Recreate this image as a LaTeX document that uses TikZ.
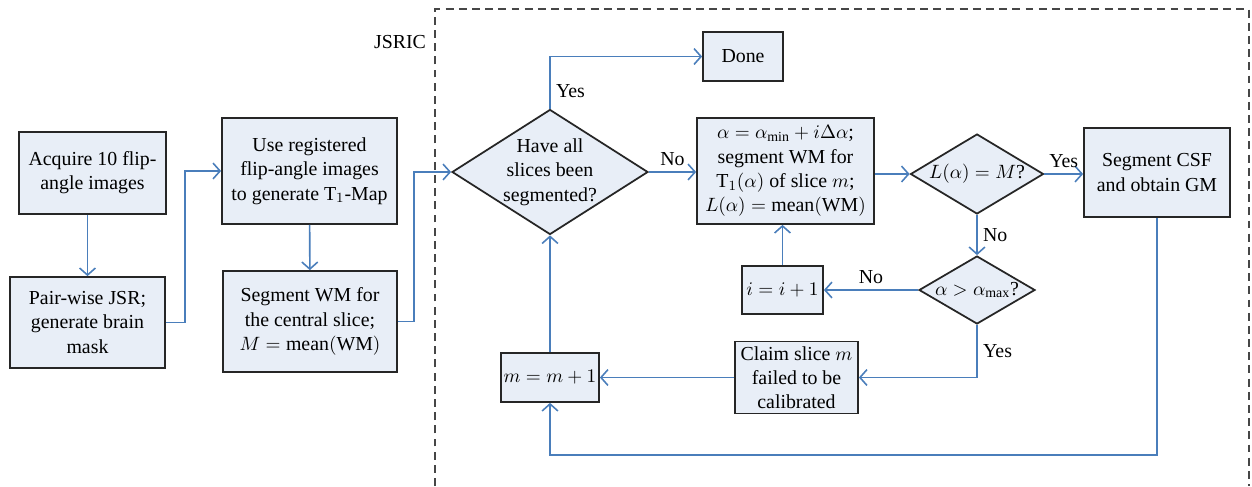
\documentclass[tikz,border=0pt]{standalone}
\usepackage{fontspec}
\setmainfont{Liberation Serif}
\usepackage{amsmath}
\usetikzlibrary{shapes.geometric}
\usetikzlibrary{arrows.meta}
\definecolor{boxfill}{RGB}{232,238,247}
\definecolor{flowblue}{RGB}{74,126,187}
\definecolor{framegray}{RGB}{70,70,70}
\tikzset{
        flownode/.style={align=center, font=\fontsize{11.3}{13.8}\selectfont, fill=boxfill, draw=black!85, line width=1pt},
        % Process boxes
        node_box/.style={flownode, rectangle, inner sep=0pt},
        % Decision nodes
        node_decision/.style={flownode, diamond, inner sep=-2pt},
        % Connectors
        edge_flow/.style={draw=flowblue, line width=0.9pt, -{Straight Barb[length=4pt,width=9pt]}},
        % Yes / No labels
        edge_label/.style={font=\fontsize{11.3}{13.8}\selectfont, text=black, inner sep=3pt}
}

\begin{document}
\begin{tikzpicture}
    \useasboundingbox (0,0) rectangle (25.04,-9.72);

    % JSRIC frame
    \draw[framegray, line width=1pt, dash pattern=on 4.5pt off 3pt]
        (8.70,-9.72) -- (8.70,-0.18) -- (24.98,-0.18) -- (24.98,-9.72);
    \node[edge_label] (jsric) at (8.0,-0.84) {JSRIC};

    % preprocessing
    \node[node_box, minimum width=2.94cm, minimum height=1.64cm] (acq) at (1.85,-3.46)
        {Acquire 10 flip-\\angle images};
    \node[node_box, minimum width=3.10cm, minimum height=1.82cm] (jsr) at (1.75,-6.45)
        {Pair-wise JSR;\\generate brain\\mask};
    \node[node_box, minimum width=3.50cm, minimum height=2.12cm] (tmap) at (6.19,-3.42)
        {Use registered\\flip-angle images\\to generate T$_1$-Map};
    \node[node_box, minimum width=3.48cm, minimum height=2.02cm] (segc) at (6.20,-6.43)
        {Segment WM for\\the central slice;\\$M = \mathrm{mean}(\mathrm{WM})$};

    % calibration loop
    \node[node_decision, aspect=1.568, minimum width=3.92cm, minimum height=2.50cm] (allseg) at (11.0,-3.44)
        {Have all\\slices been\\segmented?};
    \node[node_box, minimum width=1.60cm, minimum height=0.98cm] (done) at (14.86,-1.13) {Done};
    \node[node_box, minimum width=3.54cm, minimum height=2.12cm] (segwm) at (15.71,-3.42)
        {$\alpha = \alpha_{\min} + i\Delta\alpha$;\\segment WM for\\T$_1(\alpha)$ of slice $m$;\\$L(\alpha) = \mathrm{mean}(\mathrm{WM})$};
    \node[node_decision, aspect=1.66, minimum width=2.66cm, minimum height=1.60cm] (lmatch) at (19.54,-3.48)
        {$L(\alpha) = M$?};
    \node[node_box, minimum width=2.92cm, minimum height=1.78cm] (csf) at (23.14,-3.45)
        {Segment CSF\\and obtain GM};
    \node[node_decision, aspect=1.71, minimum width=2.32cm, minimum height=1.36cm] (amax) at (19.54,-5.80)
        {$\alpha > \alpha_{\max}$?};
    \node[node_box, minimum width=1.62cm, minimum height=0.96cm] (incr) at (15.65,-5.80) {$i = i + 1$};
    \node[node_box, minimum width=2.46cm, minimum height=1.44cm] (claim) at (15.93,-7.55)
        {Claim slice $m$\\failed to be\\calibrated};
    \node[node_box, minimum width=1.96cm, minimum height=0.98cm] (nextm) at (11.0,-7.55) {$m = m + 1$};
    \coordinate (loopy) at (0,-9.10);

    % connectors
    \draw[edge_flow] (acq.south -| jsr.north) -- (jsr.north);
    \draw[edge_flow] (jsr.east) -- ++(0.38,0) |- (tmap.west);
    \draw[edge_flow] (tmap) -- (segc);
    \draw[edge_flow] (segc.east) -- ++(0.32,0) |- (allseg.west);
    \draw[edge_flow] (allseg.north) |- (done.west)
        node[edge_label, pos=0.17, right] {Yes};
    \draw[edge_flow] (allseg.east) -- (allseg.east -| segwm.west)
        node[edge_label, midway, above] {No};
    \draw[edge_flow] (segwm.east |- lmatch.west) -- (lmatch.west);
    \draw[edge_flow] (lmatch.east) -- (lmatch.east -| csf.west)
        node[edge_label, midway, above] {Yes};
    \draw[edge_flow] (lmatch.south) -- (amax.north)
        node[edge_label, midway, right] {No};
    \draw[edge_flow] (amax.west) -- (amax.west -| incr.east)
        node[edge_label, midway, above] {No};
    \draw[edge_flow] (incr.north) -- (incr.north |- segwm.south);
    \draw[edge_flow] (amax.south) |- (claim.east)
        node[edge_label, pos=0.25, right] {Yes};
    \draw[edge_flow] (claim.west) -- (claim.west -| nextm.east);
    \draw[edge_flow] (nextm.north) -- (allseg.south);
    \draw[edge_flow] (csf.south) -- (csf.south |- loopy) -| (nextm.south);
\end{tikzpicture}
\end{document}
